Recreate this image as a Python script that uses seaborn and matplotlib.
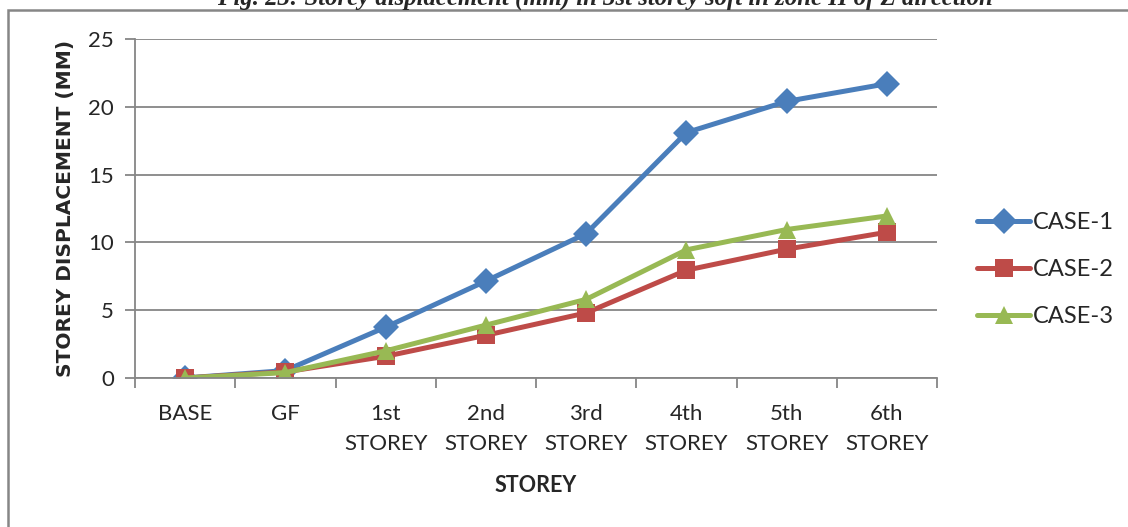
import numpy as np
import pandas as pd
import seaborn as sns
import matplotlib.pyplot as plt
from matplotlib.patches import Rectangle

# data
storeys = ['BASE', 'GF', '1st\nSTOREY', '2nd\nSTOREY', '3rd\nSTOREY',
           '4th\nSTOREY', '5th\nSTOREY', '6th\nSTOREY']
case1 = [0.0, 0.55, 3.75, 7.15, 10.65, 18.1, 20.4, 21.7]
case2 = [0.0, 0.45, 1.6, 3.15, 4.8, 7.95, 9.5, 10.75]
case3 = [0.0, 0.4, 2.0, 3.9, 5.8, 9.45, 10.95, 11.95]
cases = ['CASE-1', 'CASE-2', 'CASE-3']
colors = ['#4A7EBB', '#BE4B48', '#98B954']
marks = ['D', 's', '^']

pos = np.arange(len(storeys))
df = pd.concat([pd.DataFrame({'pos': pos, 'disp': v, 'case': c})
                for c, v in zip(cases, [case1, case2, case3])])

sns.set_theme(style='white')
plt.rcParams['font.family'] = ['Lato', 'DejaVu Sans']
GREY = '#868686'

fig = plt.figure(figsize=(11.28, 5.27), dpi=100)
ax = fig.add_axes([135/1128, 1 - 378/527, 802/1128, 339/527])

sns.lineplot(data=df, x='pos', y='disp', hue='case', style='case',
             palette=dict(zip(cases, colors)), markers=dict(zip(cases, marks)),
             dashes=False, linewidth=3.6, markersize=13, markeredgewidth=0,
             ax=ax)

ax.set_xlim(-0.5, 7.5)
ax.set_ylim(0, 25)
ax.set_yticks(range(0, 26, 5))
ax.set_xticks(pos)
ax.set_xticklabels(storeys, fontsize=16, linespacing=1.66)
ax.set_xticks(np.arange(-0.5, 8, 1), minor=True)
ax.tick_params(axis='x', which='major', length=0, pad=18.5)
ax.tick_params(axis='x', which='minor', length=7, color=GREY, width=1.3, direction='out', bottom=True)
ax.tick_params(axis='y', length=7, color=GREY, width=1.3, direction='out', left=True, labelsize=16, pad=8)
ax.grid(axis='y', color=GREY, linewidth=1.3)
ax.set_axisbelow(True)
for s in ['top', 'right']:
    ax.spines[s].set_visible(False)
for s in ['left', 'bottom']:
    ax.spines[s].set_color(GREY)
    ax.spines[s].set_linewidth(1.3)

ax.set_xlabel('STOREY', fontsize=15.5, fontweight='bold', labelpad=15)
ax.set_ylabel('STOREY DISPLACEMENT (MM)', fontsize=14.5, fontweight='bold', labelpad=10,
              family=['DejaVu Sans'])

handles, labels = ax.get_legend_handles_labels()
ax.legend(handles, labels, loc='center left', bbox_to_anchor=(1.05, 0.32),
          frameon=False, fontsize=17, handlelength=2.25, labelspacing=1.1,
          handletextpad=0.1, borderpad=0, borderaxespad=0)

# outer chart frame (cut off at right and bottom)
fig.patches.append(Rectangle((8/1128, -0.1), 1.2, 1 - 10/527 + 0.1,
                             transform=fig.transFigure, fill=False,
                             edgecolor=GREY, linewidth=1.8))

fig.text(605/1128, 1 - 5/527, 'Fig. 23: Storey displacement (mm) in 3st storey soft in zone II of Z direction',
         ha='center', va='baseline', fontsize=17.8, fontweight='bold', fontstyle='italic',
         family=['Liberation Serif', 'DejaVu Serif'])

fig.savefig('out.png', dpi=100)
